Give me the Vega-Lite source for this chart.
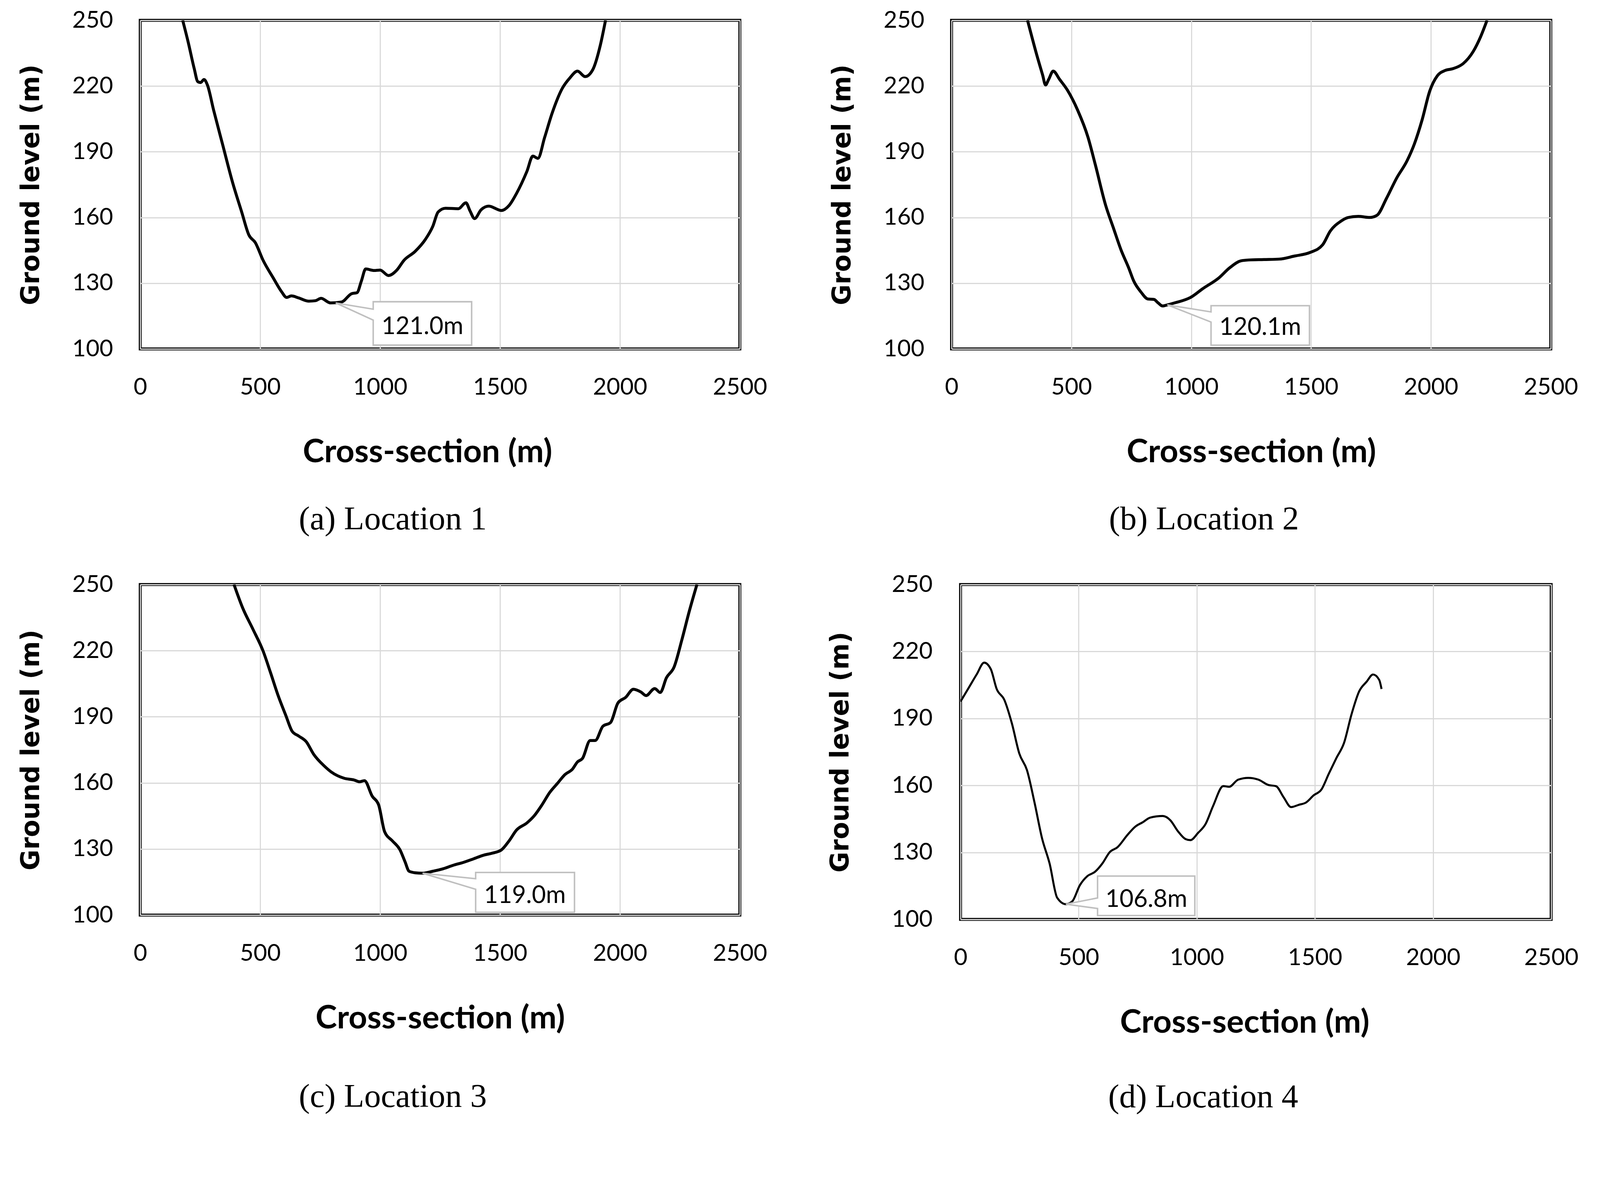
{
  "$schema": "https://vega.github.io/schema/vega-lite/v6.json",
  "background": "white",
  "padding": {"left": 43, "top": 18, "right": 0, "bottom": 0},
  "config": {
    "view": {"stroke": "black", "strokeWidth": 7.5},
    "axis": {"domain": false, "ticks": false, "grid": true, "gridColor": "#d9d9d9", "gridWidth": 2.8, "labelFont": "Lato", "labelFontSize": 60, "labelColor": "black", "titleColor": "black", "format": "d"},
    "axisX": {"labelPadding": 69, "labelFlush": false, "titleFont": "Lato", "titleFontSize": 83, "titleFontWeight": "bold", "titlePadding": 95},
    "axisY": {"labelPadding": 70, "titleFont": "DejaVu Sans", "titleFontSize": 65, "titleFontWeight": "bold", "titlePadding": 71},
    "title": {"orient": "bottom", "anchor": "middle", "frame": "bounds", "offset": 89, "font": "Liberation Serif", "fontSize": 85, "fontWeight": "normal", "color": "black"}
  },
  "datasets": {
    "profiles": [
      {"loc": "a", "x": 177, "y": 250}, {"loc": "a", "x": 200, "y": 240}, {"loc": "a", "x": 225, "y": 228}, {"loc": "a", "x": 240, "y": 222}, {"loc": "a", "x": 252, "y": 221.6}, {"loc": "a", "x": 266, "y": 223}, {"loc": "a", "x": 280, "y": 220.5}, {"loc": "a", "x": 306, "y": 209}, {"loc": "a", "x": 343, "y": 193.5}, {"loc": "a", "x": 385, "y": 176}, {"loc": "a", "x": 423, "y": 162.5}, {"loc": "a", "x": 453, "y": 152}, {"loc": "a", "x": 480, "y": 148.5}, {"loc": "a", "x": 512, "y": 140.5}, {"loc": "a", "x": 554, "y": 132.5}, {"loc": "a", "x": 590, "y": 126}, {"loc": "a", "x": 610, "y": 123.5}, {"loc": "a", "x": 630, "y": 124.2}, {"loc": "a", "x": 660, "y": 123.3}, {"loc": "a", "x": 703, "y": 121.8}, {"loc": "a", "x": 730, "y": 122}, {"loc": "a", "x": 754, "y": 123.1}, {"loc": "a", "x": 793, "y": 121}, {"loc": "a", "x": 839, "y": 121.4}, {"loc": "a", "x": 881, "y": 125.2}, {"loc": "a", "x": 904, "y": 125.7}, {"loc": "a", "x": 922, "y": 131}, {"loc": "a", "x": 940, "y": 136.5}, {"loc": "a", "x": 975, "y": 135.8}, {"loc": "a", "x": 1000, "y": 136}, {"loc": "a", "x": 1035, "y": 133.5}, {"loc": "a", "x": 1070, "y": 136}, {"loc": "a", "x": 1100, "y": 140.5}, {"loc": "a", "x": 1146, "y": 144.5}, {"loc": "a", "x": 1189, "y": 150}, {"loc": "a", "x": 1220, "y": 156}, {"loc": "a", "x": 1242, "y": 162.5}, {"loc": "a", "x": 1273, "y": 164.2}, {"loc": "a", "x": 1326, "y": 164}, {"loc": "a", "x": 1358, "y": 166.7}, {"loc": "a", "x": 1375, "y": 163}, {"loc": "a", "x": 1394, "y": 159.5}, {"loc": "a", "x": 1421, "y": 163.5}, {"loc": "a", "x": 1453, "y": 165.2}, {"loc": "a", "x": 1506, "y": 163.2}, {"loc": "a", "x": 1538, "y": 165.5}, {"loc": "a", "x": 1569, "y": 171}, {"loc": "a", "x": 1612, "y": 181}, {"loc": "a", "x": 1637, "y": 188}, {"loc": "a", "x": 1658, "y": 187}, {"loc": "a", "x": 1686, "y": 196.5}, {"loc": "a", "x": 1717, "y": 207.5}, {"loc": "a", "x": 1760, "y": 219}, {"loc": "a", "x": 1792, "y": 223.8}, {"loc": "a", "x": 1823, "y": 226.8}, {"loc": "a", "x": 1855, "y": 224.3}, {"loc": "a", "x": 1887, "y": 227.5}, {"loc": "a", "x": 1918, "y": 238.5}, {"loc": "a", "x": 1940, "y": 250},
      {"loc": "b", "x": 317, "y": 250}, {"loc": "b", "x": 356, "y": 234}, {"loc": "b", "x": 380, "y": 225}, {"loc": "b", "x": 392, "y": 220.5}, {"loc": "b", "x": 405, "y": 223}, {"loc": "b", "x": 424, "y": 226.8}, {"loc": "b", "x": 451, "y": 223}, {"loc": "b", "x": 483, "y": 218.2}, {"loc": "b", "x": 526, "y": 209}, {"loc": "b", "x": 569, "y": 196.7}, {"loc": "b", "x": 600, "y": 184}, {"loc": "b", "x": 643, "y": 165.5}, {"loc": "b", "x": 675, "y": 155.3}, {"loc": "b", "x": 707, "y": 145.2}, {"loc": "b", "x": 739, "y": 137}, {"loc": "b", "x": 760, "y": 131}, {"loc": "b", "x": 790, "y": 126}, {"loc": "b", "x": 819, "y": 122.8}, {"loc": "b", "x": 844, "y": 122.6}, {"loc": "b", "x": 862, "y": 121}, {"loc": "b", "x": 880, "y": 119.6}, {"loc": "b", "x": 900, "y": 120.1}, {"loc": "b", "x": 930, "y": 121}, {"loc": "b", "x": 997, "y": 123.5}, {"loc": "b", "x": 1048, "y": 127.5}, {"loc": "b", "x": 1116, "y": 132.5}, {"loc": "b", "x": 1160, "y": 137}, {"loc": "b", "x": 1207, "y": 140.2}, {"loc": "b", "x": 1239, "y": 140.6}, {"loc": "b", "x": 1303, "y": 140.8}, {"loc": "b", "x": 1367, "y": 141}, {"loc": "b", "x": 1431, "y": 142.4}, {"loc": "b", "x": 1495, "y": 144}, {"loc": "b", "x": 1548, "y": 147.5}, {"loc": "b", "x": 1580, "y": 153.8}, {"loc": "b", "x": 1623, "y": 158.2}, {"loc": "b", "x": 1655, "y": 160}, {"loc": "b", "x": 1697, "y": 160.5}, {"loc": "b", "x": 1745, "y": 160}, {"loc": "b", "x": 1775, "y": 161}, {"loc": "b", "x": 1814, "y": 168.6}, {"loc": "b", "x": 1857, "y": 178}, {"loc": "b", "x": 1900, "y": 185.8}, {"loc": "b", "x": 1931, "y": 193.6}, {"loc": "b", "x": 1963, "y": 204.5}, {"loc": "b", "x": 1995, "y": 217.7}, {"loc": "b", "x": 2027, "y": 224.7}, {"loc": "b", "x": 2059, "y": 227.1}, {"loc": "b", "x": 2091, "y": 227.9}, {"loc": "b", "x": 2134, "y": 230.2}, {"loc": "b", "x": 2176, "y": 235.7}, {"loc": "b", "x": 2208, "y": 242.7}, {"loc": "b", "x": 2234, "y": 250},
      {"loc": "c", "x": 391, "y": 250}, {"loc": "c", "x": 427, "y": 239.4}, {"loc": "c", "x": 470, "y": 229.7}, {"loc": "c", "x": 512, "y": 219.9}, {"loc": "c", "x": 543, "y": 210.1}, {"loc": "c", "x": 575, "y": 199.6}, {"loc": "c", "x": 607, "y": 190.6}, {"loc": "c", "x": 634, "y": 183.3}, {"loc": "c", "x": 660, "y": 181.3}, {"loc": "c", "x": 692, "y": 178.7}, {"loc": "c", "x": 723, "y": 173}, {"loc": "c", "x": 766, "y": 167.8}, {"loc": "c", "x": 797, "y": 164.9}, {"loc": "c", "x": 850, "y": 162.1}, {"loc": "c", "x": 892, "y": 161.3}, {"loc": "c", "x": 914, "y": 160.5}, {"loc": "c", "x": 935, "y": 161}, {"loc": "c", "x": 967, "y": 154}, {"loc": "c", "x": 994, "y": 150}, {"loc": "c", "x": 1019, "y": 137.8}, {"loc": "c", "x": 1051, "y": 133.7}, {"loc": "c", "x": 1083, "y": 129.6}, {"loc": "c", "x": 1104, "y": 124.2}, {"loc": "c", "x": 1121, "y": 119.9}, {"loc": "c", "x": 1146, "y": 119.2}, {"loc": "c", "x": 1177, "y": 119}, {"loc": "c", "x": 1220, "y": 119.9}, {"loc": "c", "x": 1262, "y": 121}, {"loc": "c", "x": 1305, "y": 122.6}, {"loc": "c", "x": 1347, "y": 123.9}, {"loc": "c", "x": 1389, "y": 125.5}, {"loc": "c", "x": 1432, "y": 127.2}, {"loc": "c", "x": 1464, "y": 128}, {"loc": "c", "x": 1506, "y": 129.6}, {"loc": "c", "x": 1538, "y": 133.7}, {"loc": "c", "x": 1569, "y": 138.6}, {"loc": "c", "x": 1612, "y": 141.8}, {"loc": "c", "x": 1643, "y": 145.1}, {"loc": "c", "x": 1675, "y": 150}, {"loc": "c", "x": 1707, "y": 155.6}, {"loc": "c", "x": 1739, "y": 159.7}, {"loc": "c", "x": 1771, "y": 163.8}, {"loc": "c", "x": 1802, "y": 166.2}, {"loc": "c", "x": 1823, "y": 169.5}, {"loc": "c", "x": 1844, "y": 171.1}, {"loc": "c", "x": 1876, "y": 179.2}, {"loc": "c", "x": 1897, "y": 179.2}, {"loc": "c", "x": 1929, "y": 185.7}, {"loc": "c", "x": 1961, "y": 187.4}, {"loc": "c", "x": 1992, "y": 196.3}, {"loc": "c", "x": 2024, "y": 198.8}, {"loc": "c", "x": 2056, "y": 202.5}, {"loc": "c", "x": 2088, "y": 201.2}, {"loc": "c", "x": 2109, "y": 199.6}, {"loc": "c", "x": 2145, "y": 202.8}, {"loc": "c", "x": 2168, "y": 201}, {"loc": "c", "x": 2194, "y": 207.7}, {"loc": "c", "x": 2226, "y": 212.6}, {"loc": "c", "x": 2258, "y": 224.8}, {"loc": "c", "x": 2289, "y": 237.8}, {"loc": "c", "x": 2321, "y": 250},
      {"loc": "d", "x": 0, "y": 197.6}, {"loc": "d", "x": 36, "y": 204}, {"loc": "d", "x": 68, "y": 209.7}, {"loc": "d", "x": 100, "y": 215}, {"loc": "d", "x": 128, "y": 212.1}, {"loc": "d", "x": 153, "y": 203.2}, {"loc": "d", "x": 185, "y": 198.4}, {"loc": "d", "x": 217, "y": 187.9}, {"loc": "d", "x": 249, "y": 174.2}, {"loc": "d", "x": 281, "y": 166.9}, {"loc": "d", "x": 313, "y": 152.4}, {"loc": "d", "x": 345, "y": 136.3}, {"loc": "d", "x": 377, "y": 125}, {"loc": "d", "x": 409, "y": 109.7}, {"loc": "d", "x": 446, "y": 106.8}, {"loc": "d", "x": 473, "y": 108.1}, {"loc": "d", "x": 505, "y": 115.3}, {"loc": "d", "x": 537, "y": 119.4}, {"loc": "d", "x": 569, "y": 121.3}, {"loc": "d", "x": 600, "y": 125}, {"loc": "d", "x": 632, "y": 130.2}, {"loc": "d", "x": 664, "y": 132.3}, {"loc": "d", "x": 707, "y": 137.9}, {"loc": "d", "x": 739, "y": 141.5}, {"loc": "d", "x": 771, "y": 143.5}, {"loc": "d", "x": 803, "y": 145.6}, {"loc": "d", "x": 856, "y": 146.3}, {"loc": "d", "x": 888, "y": 144.4}, {"loc": "d", "x": 920, "y": 139.5}, {"loc": "d", "x": 952, "y": 136}, {"loc": "d", "x": 973, "y": 135.5}, {"loc": "d", "x": 1005, "y": 138.7}, {"loc": "d", "x": 1037, "y": 142.7}, {"loc": "d", "x": 1069, "y": 150.8}, {"loc": "d", "x": 1112, "y": 159.7}, {"loc": "d", "x": 1137, "y": 159.4}, {"loc": "d", "x": 1175, "y": 162.6}, {"loc": "d", "x": 1218, "y": 163.4}, {"loc": "d", "x": 1261, "y": 162.6}, {"loc": "d", "x": 1303, "y": 160.2}, {"loc": "d", "x": 1335, "y": 159.7}, {"loc": "d", "x": 1367, "y": 154.8}, {"loc": "d", "x": 1399, "y": 150.3}, {"loc": "d", "x": 1431, "y": 151.3}, {"loc": "d", "x": 1463, "y": 152.4}, {"loc": "d", "x": 1495, "y": 155.6}, {"loc": "d", "x": 1527, "y": 158.1}, {"loc": "d", "x": 1559, "y": 165.3}, {"loc": "d", "x": 1591, "y": 172.3}, {"loc": "d", "x": 1623, "y": 179}, {"loc": "d", "x": 1655, "y": 191.9}, {"loc": "d", "x": 1687, "y": 202.1}, {"loc": "d", "x": 1719, "y": 206.5}, {"loc": "d", "x": 1746, "y": 209.7}, {"loc": "d", "x": 1772, "y": 207.3}, {"loc": "d", "x": 1782, "y": 203.2}
    ],
    "notes": [
      {"loc": "a", "x": 815, "y": 121.0, "label": "121.0m"},
      {"loc": "b", "x": 900, "y": 120.1, "label": "120.1m"},
      {"loc": "c", "x": 1177, "y": 119.0, "label": "119.0m"},
      {"loc": "d", "x": 446, "y": 106.8, "label": "106.8m"}
    ]
  },
  "spacing": 86,
  "vconcat": [
    {
      "spacing": 152,
      "hconcat": [
        {
          "width": 1535, "height": 841,
          "title": {"text": "(a) Location 1"},
          "encoding": {
            "x": {"field": "x", "type": "quantitative", "scale": {"domain": [0, 2500], "nice": false}, "axis": {"values": [0, 500, 1000, 1500, 2000, 2500], "title": "Cross-section (m)", "titleX": 735}},
            "y": {"field": "y", "type": "quantitative", "scale": {"domain": [100, 250], "nice": false, "zero": false}, "axis": {"values": [100, 130, 160, 190, 220, 250], "title": "Ground level (m)"}}
          },
          "layer": [
            {"data": {"name": "profiles"}, "transform": [{"filter": "datum.loc == 'a'"}], "mark": {"type": "line", "interpolate": "monotone", "color": "black", "strokeWidth": 7.5, "clip": true}},
            {"data": {"name": "notes"}, "transform": [{"filter": "datum.loc == 'a'"}], "mark": {"type": "point", "shape": "M0,0L96,16L96,-3L348,-3L348,108L96,108L96,44Z", "size": 4, "filled": true, "fill": "white", "stroke": "#bfbfbf", "strokeWidth": 3.8, "opacity": 1}},
            {"data": {"name": "notes"}, "transform": [{"filter": "datum.loc == 'a'"}], "mark": {"type": "text", "dx": 222, "dy": 80, "align": "center", "baseline": "alphabetic", "font": "Lato", "fontSize": 62, "color": "black"}, "encoding": {"text": {"field": "label"}}}
          ]
        },
        {
          "width": 1534, "height": 841,
          "title": {"text": "(b) Location 2"},
          "encoding": {
            "x": {"field": "x", "type": "quantitative", "scale": {"domain": [0, 2500], "nice": false}, "axis": {"values": [0, 500, 1000, 1500, 2000, 2500], "title": "Cross-section (m)"}},
            "y": {"field": "y", "type": "quantitative", "scale": {"domain": [100, 250], "nice": false, "zero": false}, "axis": {"values": [100, 130, 160, 190, 220, 250], "title": "Ground level (m)"}}
          },
          "layer": [
            {"data": {"name": "profiles"}, "transform": [{"filter": "datum.loc == 'b'"}], "mark": {"type": "line", "interpolate": "monotone", "color": "black", "strokeWidth": 7.5, "clip": true}},
            {"data": {"name": "notes"}, "transform": [{"filter": "datum.loc == 'b'"}], "mark": {"type": "point", "shape": "M0,0L112,18L112,2L364,2L364,103L112,103L112,44Z", "size": 4, "filled": true, "fill": "white", "stroke": "#bfbfbf", "strokeWidth": 3.8, "opacity": 1}},
            {"data": {"name": "notes"}, "transform": [{"filter": "datum.loc == 'b'"}], "mark": {"type": "text", "dx": 238, "dy": 77, "align": "center", "baseline": "alphabetic", "font": "Lato", "fontSize": 62, "color": "black"}, "encoding": {"text": {"field": "label"}}}
          ]
        }
      ]
    },
    {
      "spacing": 147,
      "hconcat": [
        {
          "width": 1535, "height": 846,
          "title": {"text": "(c) Location 3", "offset": 118},
          "encoding": {
            "x": {"field": "x", "type": "quantitative", "scale": {"domain": [0, 2500], "nice": false}, "axis": {"values": [0, 500, 1000, 1500, 2000, 2500], "title": "Cross-section (m)"}},
            "y": {"field": "y", "type": "quantitative", "scale": {"domain": [100, 250], "nice": false, "zero": false}, "axis": {"values": [100, 130, 160, 190, 220, 250], "title": "Ground level (m)"}}
          },
          "layer": [
            {"data": {"name": "profiles"}, "transform": [{"filter": "datum.loc == 'c'"}], "mark": {"type": "line", "interpolate": "monotone", "color": "black", "strokeWidth": 7.5, "clip": true}},
            {"data": {"name": "notes"}, "transform": [{"filter": "datum.loc == 'c'"}], "mark": {"type": "point", "shape": "M0,0L136,14L136,-2L389,-2L389,100L136,100L136,41Z", "size": 4, "filled": true, "fill": "white", "stroke": "#bfbfbf", "strokeWidth": 3.8, "opacity": 1}},
            {"data": {"name": "notes"}, "transform": [{"filter": "datum.loc == 'c'"}], "mark": {"type": "text", "dx": 262, "dy": 76, "align": "center", "baseline": "alphabetic", "font": "Lato", "fontSize": 62, "color": "black"}, "encoding": {"text": {"field": "label"}}}
          ]
        },
        {
          "width": 1512, "height": 857,
          "title": {"text": "(d) Location 4", "offset": 108},
          "encoding": {
            "x": {"field": "x", "type": "quantitative", "scale": {"domain": [0, 2500], "nice": false}, "axis": {"values": [0, 500, 1000, 1500, 2000, 2500], "title": "Cross-section (m)", "titleX": 727}},
            "y": {"field": "y", "type": "quantitative", "scale": {"domain": [100, 250], "nice": false, "zero": false}, "axis": {"values": [100, 130, 160, 190, 220, 250], "title": "Ground level (m)", "labelPadding": 72, "titlePadding": 97}}
          },
          "layer": [
            {"data": {"name": "profiles"}, "transform": [{"filter": "datum.loc == 'd'"}], "mark": {"type": "line", "interpolate": "monotone", "color": "black", "strokeWidth": 5.2, "clip": true}},
            {"data": {"name": "notes"}, "transform": [{"filter": "datum.loc == 'd'"}], "mark": {"type": "point", "shape": "M0,0L81,-16L81,-72L330,-72L330,29L81,29L81,11Z", "size": 4, "filled": true, "fill": "white", "stroke": "#bfbfbf", "strokeWidth": 3.8, "opacity": 1}},
            {"data": {"name": "notes"}, "transform": [{"filter": "datum.loc == 'd'"}], "mark": {"type": "text", "dx": 206, "dy": 7, "align": "center", "baseline": "alphabetic", "font": "Lato", "fontSize": 62, "color": "black"}, "encoding": {"text": {"field": "label"}}}
          ]
        }
      ]
    }
  ]
}
